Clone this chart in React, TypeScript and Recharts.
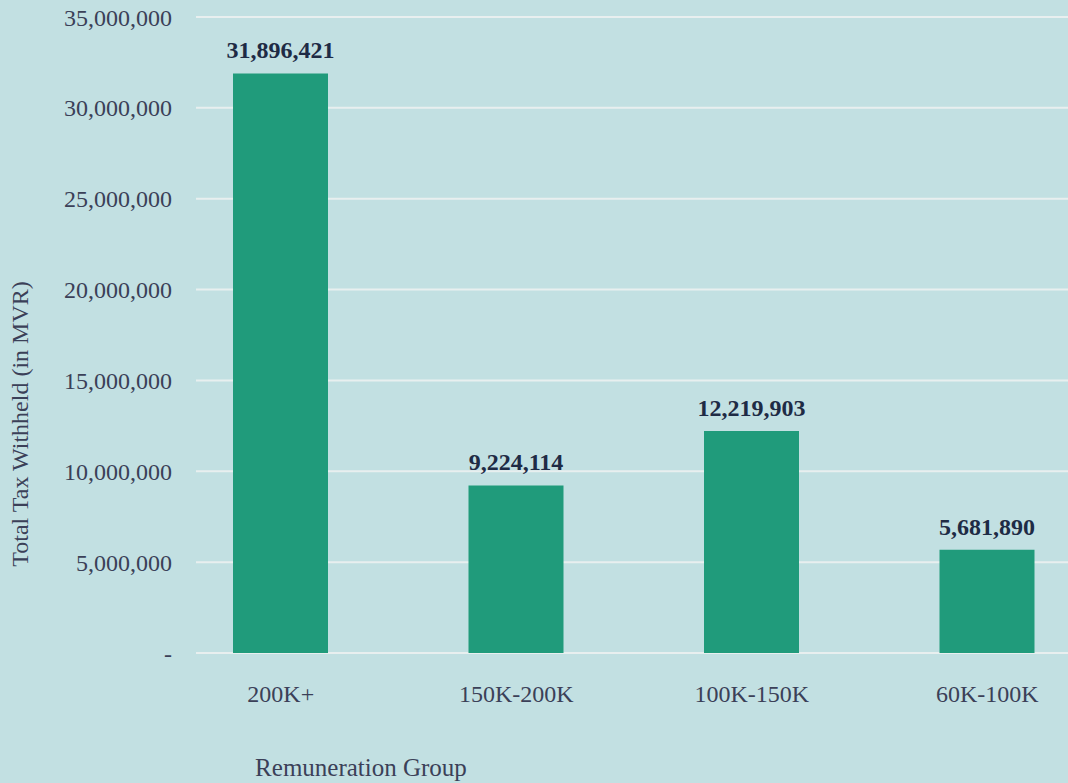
import { BarChart, Bar, XAxis, YAxis, CartesianGrid, LabelList } from 'recharts';

const groups = ['200K+', '150K-200K', '100K-150K', '60K-100K'];
const taxWithheld = [31896421, 9224114, 12219903, 5681890];
const yTicks = [0, 5000000, 10000000, 15000000, 20000000, 25000000, 30000000, 35000000];

const data = groups.map((group, i) => ({ group, tax: taxWithheld[i] }));

const FONT = 'Liberation Serif';
const AXIS_TEXT = '#3b4058';
const LABEL_TEXT = '#1e2b45';

const fmt = (v: number) => (v === 0 ? '-' : v.toLocaleString('en-US'));

export default function App() {
  return (
    <div
      style={{
        position: 'absolute',
        top: 0,
        left: 0,
        width: 1068,
        height: 783,
        background: '#c2e0e2',
        overflow: 'hidden',
        fontFamily: FONT,
      }}
    >
      <BarChart
        width={1068}
        height={783}
        data={data}
        margin={{ top: 17, right: 0, left: 0, bottom: 0 }}
        style={{ fontFamily: FONT }}
      >
        <CartesianGrid vertical={false} stroke="#e8efef" strokeWidth={2} />
        <XAxis
          dataKey="group"
          height={130}
          axisLine={false}
          tickLine={false}
          tickSize={0}
          tickMargin={32}
          padding={{ left: -33, right: -37 }}
          tick={{ fontSize: 24, fill: AXIS_TEXT, fontFamily: FONT }}
          label={{
            content: ({ viewBox }: any) => (
              <text
                x={viewBox.x + 165}
                y={viewBox.y + 114}
                textAnchor="middle"
                dominantBaseline="central"
                style={{ fontSize: 25, fill: AXIS_TEXT, fontFamily: FONT }}
              >
                Remuneration Group
              </text>
            ),
          }}
        />
        <YAxis
          width={196}
          domain={[0, 35000000]}
          ticks={yTicks}
          interval={0}
          axisLine={false}
          tickLine={false}
          tickSize={0}
          tickMargin={24}
          tickFormatter={fmt}
          tick={{ fontSize: 24, fill: AXIS_TEXT, fontFamily: FONT }}
          label={{
            content: ({ viewBox }: any) => {
              const x = 20;
              const y = viewBox.y + viewBox.height / 2 + 89;
              return (
                <text
                  x={x}
                  y={y}
                  transform={`rotate(-90, ${x}, ${y})`}
                  textAnchor="middle"
                  dominantBaseline="central"
                  style={{ fontSize: 24, fill: AXIS_TEXT, fontFamily: FONT }}
                >
                  Total Tax Withheld (in MVR)
                </text>
              );
            },
          }}
        />
        <Bar dataKey="tax" fill="#209b7b" barSize={95} isAnimationActive={false}>
          <LabelList
            dataKey="tax"
            position="top"
            offset={15}
            formatter={(v: any) => Number(v).toLocaleString('en-US')}
            style={{ fontSize: 24, fontWeight: 700, fill: LABEL_TEXT, fontFamily: FONT }}
          />
        </Bar>
      </BarChart>
    </div>
  );
}
